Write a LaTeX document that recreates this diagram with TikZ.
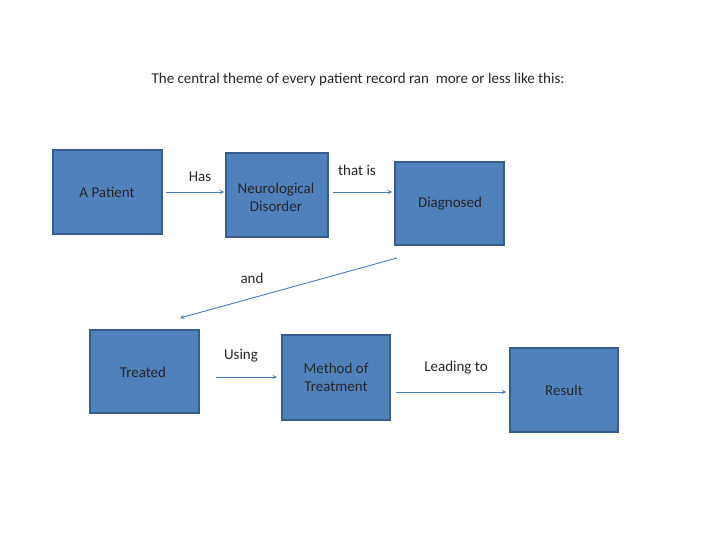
\documentclass[tikz,border=0pt]{standalone}
\usepackage{fontspec}
\setmainfont{Carlito}
\definecolor{boxfill}{HTML}{4F81BD}
\definecolor{boxline}{HTML}{385D8A}
\definecolor{arr}{HTML}{4A7EBB}
\begin{document}
\begin{tikzpicture}[x=1pt,y=-1pt,
  bx/.style={draw=boxline,line width=1.2pt,fill=boxfill,align=center,font=\fontsize{15}{18}\selectfont,text=black!85},
  lbl/.style={font=\fontsize{15}{18}\selectfont,text=black!85},
  con/.style={draw=arr,line width=0.9pt,-stealth}]
\useasboundingbox (0,0) rectangle (720,540);
\node[lbl] (title) at (358,80) {The central theme of every patient record ran\ \ more or less like this:};
\path[bx] (53,150) rectangle (162,234); \node[lbl] (ap) at (107,192) {A Patient};
\path[bx] (226,153) rectangle (328,237); \node[lbl,align=center] (nd) at (276,197) {Neurological\\Disorder};
\path[bx] (395,162) rectangle (504,245); \node[lbl] (dg) at (450,204) {Diagnosed};
\path[bx] (90,330) rectangle (199,413); \node[lbl] (tr) at (143,372) {Treated};
\path[bx] (282,335) rectangle (390,420); \node[lbl,align=center] (mt) at (336,377) {Method of\\Treatment};
\path[bx] (510,348) rectangle (618,432); \node[lbl] (rs) at (564,390) {Result};
\node[lbl] (has) at (200,177) {Has};
\node[lbl] (ti) at (357,170) {that is};
\node[lbl] (and) at (252,278) {and};
\node[lbl] (us) at (241,356) {Using};
\node[lbl] (lt) at (456,368) {Leading to};
\coordinate (a1) at (166,192); \coordinate (a2) at (224,192);
\coordinate (b1) at (333,192); \coordinate (b2) at (392,192);
\coordinate (c1) at (397,258); \coordinate (c2) at (180,318);
\coordinate (d1) at (216,377); \coordinate (d2) at (277,377);
\coordinate (e1) at (396,392); \coordinate (e2) at (506,392);
\draw[con] (a1) -- (a2);
\draw[con] (b1) -- (b2);
\draw[con] (c1) -- (c2);
\draw[con] (d1) -- (d2);
\draw[con] (e1) -- (e2);
\end{tikzpicture}
\end{document}
